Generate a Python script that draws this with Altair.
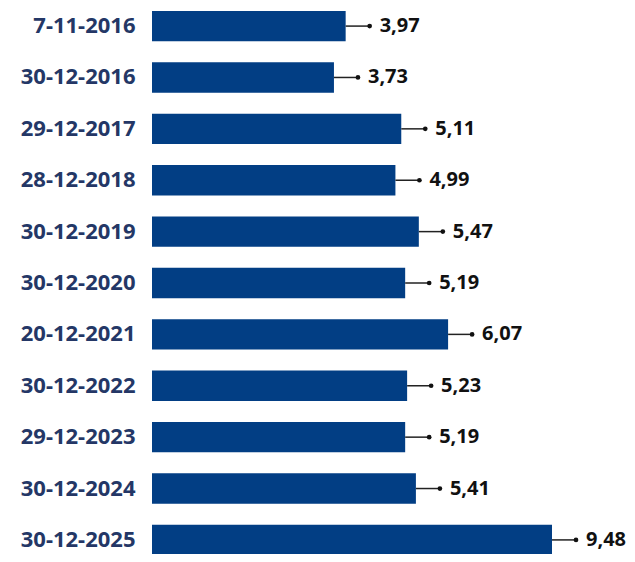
import altair as alt
import pandas as pd

dates = ["7-11-2016", "30-12-2016", "29-12-2017", "28-12-2018", "30-12-2019",
         "30-12-2020", "20-12-2021", "30-12-2022", "29-12-2023", "30-12-2024",
         "30-12-2025"]
values = [3.97, 3.73, 5.11, 4.99, 5.47, 5.19, 6.07, 5.23, 5.19, 5.41, 9.48]
labels = [f"{v:.2f}".replace(".", ",") for v in values]

df = pd.DataFrame({"date": dates, "value": values, "label": labels})

x = alt.X("value:Q",
          scale=alt.Scale(domain=[0, 8.2], range=[0, 400], clamp=True, nice=False, zero=True),
          axis=None)
y = alt.Y("date:N", sort=None, title=None,
          scale=alt.Scale(paddingInner=0.41, paddingOuter=0.057, range=[0, 550]),
          axis=alt.Axis(domain=False, ticks=False, grid=False, labelPadding=17,
                        labelFont="Noto Sans", labelFontSize=22, labelFontWeight="bold",
                        labelColor="#243766", labelLimit=200))

base = alt.Chart(df).encode(y=y)

bars = base.mark_bar(color="#023E84").encode(x=x)
rule = base.mark_rule(color="#222222", strokeWidth=1.5, x2Offset=24).encode(x=x, x2="value:Q")
dot = base.mark_circle(color="#111111", size=22, opacity=1, xOffset=24).encode(x=x)
text = base.mark_text(align="left", baseline="middle", dx=34, font="Noto Sans",
                      fontSize=20, fontWeight="bold", color="#111111").encode(x=x, text="label:N")

chart = alt.layer(bars, rule, dot, text).properties(
    width=400, height=546,
    autosize=alt.AutoSizeParams(type="none"),
    padding={"left": 144, "top": 0, "right": 75, "bottom": 0},
).configure_view(stroke=None)

chart.save("out.html", embed_options={"renderer": "svg", "actions": False})
